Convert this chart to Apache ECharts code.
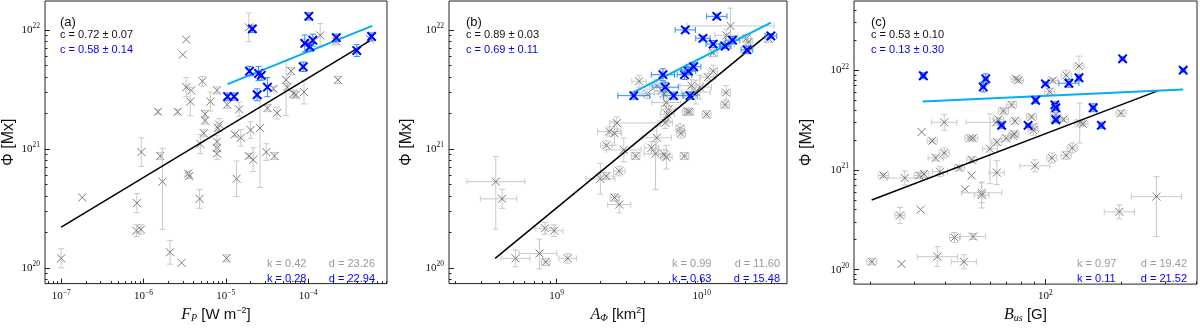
<!DOCTYPE html>
<html>
<head>
<meta charset="utf-8">
<script src="https://cdn.jsdelivr.net/npm/echarts@6/dist/echarts.min.js"></script>
<style>
  html, body { margin: 0; padding: 0; background: #fff; }
  #chart { width: 1200px; height: 328px; }
</style>
</head>
<body>
<div id="chart"></div>
<script>
// rows: [x, flux, xErr (dex), yErr (dex)]; an error may be [down, up]

// (a) flare peak flux F_P [W m^-2]
const aGray = [
  [1e-7, 1.2e20, 0, 0.08], [1.8e-7, 3.9e20, 0, 0], [8.3e-7, 3.5e20, 0, 0.08],
  [8.2e-7, 2.05e20, 0, 0.05], [9.3e-7, 2.1e20, 0, 0.04], [9.4e-7, 9.4e20, 0, 0.12],
  [1.5e-6, 2.05e21, 0, 0.02], [1.6e-6, 8.7e20, 0, 0.03], [1.7e-6, 5.3e20, 0, [0.4, 0.28]],
  [2.1e-6, 1.35e20, 0, 0.1], [2.9e-6, 1.1e20, 0, 0], [2.6e-6, 2.05e21, 0, 0.02],
  [3.0e-6, 6.2e21, 0, 0], [3.3e-6, 8.3e21, 0, 0], [3.3e-6, 3.3e21, 0, 0.08],
  [3.8e-6, 3.1e21, 0, 0], [3.7e-6, 2.5e21, 0, 0.12], [3.5e-6, 6.2e20, 0, 0.02],
  [3.6e-6, 5.9e20, 0, 0.02], [4.8e-6, 3.8e20, 0, 0.08], [5.2e-6, 3.7e21, 0, 0.04],
  [5.6e-6, 1.96e21, 0, 0.03], [5.6e-6, 1.73e21, 0, 0.03], [5.4e-6, 1.35e21, 0, 0.03],
  [4.9e-6, 1.1e21, 0, 0.08], [6.5e-6, 2.5e21, 0, 0.08], [7.8e-6, 3.1e21, 0, 0.03],
  [8.3e-6, 1.6e21, 0, 0.05], [8.0e-6, 1.5e21, 0, 0.03], [7.8e-6, 1.15e21, 0, 0.05],
  [7.8e-6, 1.02e21, 0, 0.03], [7.8e-6, 9.1e20, 0, 0.05], [1.04e-5, 2.35e21, 0, 0.03],
  [1.02e-5, 1.2e20, 0, 0.03], [1.45e-5, 2.15e21, 0, 0.06], [1.28e-5, 1.32e21, 0, 0.02],
  [1.52e-5, 1.24e21, 0, 0.07], [1.35e-5, 5.6e20, 0, 0.15], [2.0e-5, 1.44e21, 0, 0.07],
  [1.9e-5, 8.7e20, 0, 0.02], [2.15e-5, 8.1e20, 0, 0.1], [2.6e-5, 1.5e21, 0, [0.5, 0.25]],
  [3.1e-5, 9.4e20, 0, 0.07], [3.9e-5, 8.7e20, 0, 0.03], [3.2e-5, 2.2e21, 0, 0.03],
  [4.2e-5, 2.0e21, 0, 0.05], [3.8e-5, 3.2e21, 0, 0.02], [5.4e-5, 3.8e21, 0, [0.3, 0.16]],
  [6.2e-5, 4.5e21, 0, 0.03], [5.6e-5, 3.3e21, 0, 0.03], [6.6e-5, 2.9e21, 0, 0.03],
  [7.1e-5, 2.85e21, 0, 0.03], [8.9e-5, 3.0e21, 0, 0.1], [2.3e-4, 3.8e21, 0, 0.03],
  [2.2e-4, 8.0e21, 0, 0.03], [1.4e-4, 9.0e21, 0, 0.1], [9e-5, 7.8e21, 0, 0.03],
  [5.6e-4, 8.4e21, 0, 0.02], [1.9e-5, 1.05e22, 0, 0.12]
];
const aBlue = [
  [1.05e-5, 2.75e21, 0, 0.03], [1.26e-5, 2.75e21, 0, 0.03], [1.94e-5, 4.5e21, 0, 0.04],
  [2.1e-5, 1.02e22, 0, 0.03], [2.4e-5, 2.85e21, 0, 0.05], [2.5e-5, 4.3e21, 0, 0.06],
  [2.7e-5, 4.15e21, 0, 0.04], [3.2e-5, 3.3e21, 0, 0.08], [8.7e-5, 4.9e21, 0, 0.04],
  [1.02e-4, 1.3e22, 0, 0.03], [9.1e-5, 7.7e21, 0, 0.07], [1.05e-4, 7.2e21, 0, 0.04],
  [1.14e-4, 8.2e21, 0, 0.05], [2.2e-4, 8.6e21, 0, 0.03], [3.9e-4, 6.7e21, 0, 0.05],
  [5.9e-4, 8.8e21, 0, 0.03]
];
const aFitAll = [[1e-7, 2.2e20], [5.6e-4, 8.1e21]];
const aFitBlue = [[1.05e-5, 3.5e21], [6.0e-4, 1.08e22]];

// (b) area A_Phi [km^2]
const bGray = [
  [3.8e8, 5.3e20, 0.2, [0.4, 0.21]], [4.2e8, 3.8e20, [0.15, 0.1], 0.08], [5.2e8, 1.2e20, 0.1, 0.07],
  [7.6e8, 1.32e20, [0.14, 0.12], [0.13, 0.12]], [8.4e8, 1.12e20, 0.03, 0.03], [8.3e8, 2.15e20, 0.07, 0.05],
  [9.6e8, 2.05e20, 0.06, 0.05], [1.19e9, 1.2e20, 0.06, 0.04], [2.0e9, 5.6e20, 0.1, 0.13],
  [2.2e9, 5.9e20, 0.05, 0.03], [2.5e9, 3.9e20, 0.03, 0.03], [2.7e9, 3.4e20, 0.08, 0.07],
  [2.7e9, 6.5e20, 0.04, 0.04], [2.2e9, 1.07e21, 0.04, 0.04], [2.3e9, 1.4e21, 0.08, 0.04],
  [2.5e9, 1.35e21, 0.05, 0.1], [2.6e9, 1.65e21, [0.05, 0.3], 0.05], [2.9e9, 9.8e20, 0.12, 0.1],
  [3.5e9, 8.7e20, 0.03, 0.03], [3.7e9, 3.7e21, 0.05, 0.05], [4.2e9, 2.9e21, 0.05, 0.04],
  [4.5e9, 1.02e21, 0.05, 0.05], [4.8e9, 9.1e20, 0.08, [0.3, 0.1]], [4.9e9, 1.24e21, 0.1, 0.1],
  [5.5e9, 9.0e20, 0.04, 0.04], [5.7e9, 8.5e20, 0.04, 0.1], [5.5e9, 2.9e21, 0.15, 0.1],
  [5.7e9, 2.45e21, 0.1, 0.12], [5.9e9, 2.15e21, 0.05, 0.1], [5.8e9, 1.95e21, 0.05, 0.05],
  [5.6e9, 1.66e21, 0.05, 0.05], [4.9e9, 3.4e21, 0.05, 0.05], [5.3e9, 3.1e21, 0.05, 0.05],
  [7.9e9, 2.05e21, 0.03, 0.03], [8.2e9, 2.05e21, 0.03, 0.03], [7.1e9, 1.48e21, 0.03, 0.04],
  [7.2e9, 1.35e21, 0.03, 0.04], [7.6e9, 8.7e20, 0.03, 0.03], [1.08e10, 1.95e21, 0.03, 0.03],
  [1.47e10, 2.97e21, 0.03, 0.06], [1.45e10, 2.35e21, 0.03, 0.03], [1.2e10, 4.5e21, 0.03, 0.05],
  [1.1e10, 4.0e21, 0.05, 0.03], [9.7e9, 3.3e21, 0.08, 0.1], [9.1e9, 3.0e21, 0.1, 0.1],
  [8.5e9, 3.4e21, 0.08, 0.05], [1.2e10, 6.4e21, 0.03, 0.03], [1.58e10, 1.08e22, 0.3, 0.15],
  [1.48e10, 9.0e21, 0.08, 0.05], [2.04e10, 8.5e21, 0.03, 0.03], [2.1e10, 7.9e21, 0.03, 0.03],
  [2.9e10, 8.4e21, 0.03, 0.03], [1.5e10, 7.5e21, 0.05, 0.03]
];
const bBlue = [
  [3.4e9, 2.8e21, 0.11, 0.03], [5.4e9, 4.2e21, 0.08, 0.05], [5.6e9, 3.3e21, 0.09, 0.04],
  [6.4e9, 2.8e21, 0.07, 0.03], [7.6e9, 4.2e21, 0.05, 0.04], [8.1e9, 4.5e21, 0.05, 0.03],
  [8.8e9, 4.9e21, 0.05, 0.03], [8.3e9, 2.8e21, 0.05, 0.03], [7.7e9, 1.0e22, 0.07, 0.02],
  [1.27e10, 1.3e22, 0.07, 0.02], [1.02e10, 8.5e21, 0.05, 0.02], [1.2e10, 7.6e21, 0.05, 0.03],
  [1.45e10, 7.3e21, 0.04, 0.02], [1.63e10, 8.2e21, 0.05, 0.03], [2.05e10, 6.8e21, 0.04, 0.03],
  [3.0e10, 8.9e21, 0.04, 0.02]
];
const bFitAll = [[3.76e8, 1.2e20], [2.9e10, 9.3e21]];
const bFitBlue = [[3.4e9, 3.0e21], [3.0e10, 1.15e22]];

// (c) field strength B_us [G]
const cGray = [
  [20.3, 1.2e20, 0.02, 0.03], [26.7, 1.14e20, 0, 0], [37.1, 1.35e20, 0.08, 0.1],
  [47.3, 1.2e20, 0.05, 0.07], [43.4, 2.1e20, 0.02, 0.05], [51.5, 2.15e20, 0.05, 0.03],
  [26.3, 3.5e20, 0.02, 0.08], [31.8, 4.0e20, 0, 0], [22.6, 8.8e20, 0.02, 0.02],
  [27.5, 8.3e20, 0.07, 0.07], [31.4, 8.8e20, 0.02, 0.03], [32.8, 9.1e20, 0.02, 0.03],
  [38.0, 9.6e20, 0.03, 0.05], [36.5, 1.32e21, 0.03, 0.03], [39.5, 1.48e21, 0.02, 0.05],
  [39.5, 3.0e21, 0.05, 0.08], [32.1, 2.4e21, 0, 0], [35.4, 1.96e21, 0.02, 0.02],
  [45.4, 1.05e21, 0.02, 0.03], [47.8, 6.4e20, 0, 0], [50.8, 8.8e20, 0, 0],
  [50.8, 1.26e21, 0.02, 0.03], [50, 2.08e21, 0.02, 0.02], [51.3, 2.08e21, 0.02, 0.02],
  [55.7, 5.9e20, 0.08, 0.1], [55.7, 5.6e20, 0.03, 0.13], [60.1, 1.63e21, 0.03, 0.35],
  [64, 9.4e20, 0.03, 0.12], [64, 1.9e21, 0.02, 0.03], [63.6, 3.0e21, [0.12, 0.03], 0.03],
  [65, 3.2e21, 0.02, 0.02], [68, 3.9e21, 0.02, 0.03], [69.7, 2.08e21, 0.02, 0.03],
  [73.3, 4.5e21, 0.02, 0.03], [75.6, 3.1e21, 0.02, 0.03], [74.3, 2.2e21, 0.02, 0.02],
  [75, 2.3e21, 0.02, 0.03], [76.3, 8.2e21, 0.02, 0.02], [78, 7.9e21, 0.02, 0.02],
  [88, 3.4e21, 0.02, 0.02], [89, 2.7e21, 0.02, 0.03], [89.5, 2.5e21, 0.02, 0.05],
  [90.8, 1.1e21, 0.06, 0.06], [106, 1.32e21, 0.02, 0.05], [104, 6.1e21, 0.02, 0.03],
  [107, 7.9e21, 0.02, 0.02], [110, 3.6e21, 0.02, 0.02], [110, 3.1e21, 0.02, 0.02],
  [118, 3.2e21, 0.02, 0.02], [121, 8.9e21, 0.02, 0.05], [121, 1.4e21, 0.02, 0.04],
  [128, 1.66e21, 0.02, 0.05], [136, 1.1e22, 0.02, 0.1], [137, 2.95e21, 0.02, 0.2],
  [141, 2.9e21, 0.02, 0.02], [200, 3.7e21, 0.02, 0.03], [197, 3.8e20, 0.06, 0.07],
  [277, 5.4e20, 0.1, [0.4, 0.2]]
];
const cBlue = [
  [32.6, 8.8e21, 0.01, 0.03], [57.8, 8.2e21, 0.01, 0.05], [56.5, 6.8e21, 0.01, 0.05],
  [66.9, 2.8e21, 0.01, 0.03], [85.3, 2.8e21, 0.01, 0.02], [91.4, 5.0e21, 0.01, 0.03],
  [100, 7.3e21, 0.01, 0.02], [109, 4.5e21, 0.01, 0.03], [110, 4.2e21, 0.01, 0.03],
  [110, 3.2e21, 0.01, 0.03], [124, 7.4e21, 0.04, 0.04], [136, 8.4e21, 0.01, 0.03],
  [155, 4.2e21, 0.01, 0.04], [167, 2.8e21, 0.01, 0.03], [203, 1.3e22, 0.01, 0.02],
  [354, 1.0e22, 0.01, 0.02]
];
const cFitAll = [[20.3, 5.0e20], [280, 6.2e21]];
const cFitBlue = [[32.4, 4.86e21], [354, 6.4e21]];

// axis ranges (log10) and labelled decades
const xRanges = [[-7.197, -3.042], [8.257, 10.588], [1.237, 2.604]];
const yRanges = [[19.867, 22.243], [19.867, 22.243], [19.855, 22.694]];
const xDecades = [[-7, -6, -5, -4], [9, 10], [2]];
const yDecades = [20, 21, 22];

const panelTags = ['(a)', '(b)', '(c)'];
const cAll = ['c = 0.72 ± 0.07', 'c = 0.89 ± 0.03', 'c = 0.53 ± 0.10'];
const cSub = ['c = 0.58 ± 0.14', 'c = 0.69 ± 0.11', 'c = 0.13 ± 0.30'];
const kAll = ['k = 0.42', 'k = 0.99', 'k = 0.97'];
const dAll = ['d = 23.26', 'd = 11.60', 'd = 19.42'];
const kSub = ['k = 0.28', 'k = 0.63', 'k = 0.11'];
const dSub = ['d = 22.94', 'd = 15.48', 'd = 21.52'];

const GRAY = '#787878', GRAYBAR = '#c9c9c9', BLUE = '#0000ff', BLUEBAR = '#1e90ff', CYAN = '#00b0f0';
const SANS = '"Liberation Sans", Arial, sans-serif';
const SERIF = '"Liberation Serif", "DejaVu Serif", serif';

const grids = [
  { left: 43, right: 813, top: 1, bottom: 34 },
  { left: 449, right: 413, top: 1, bottom: 34 },
  { left: 854, right: 3, top: 1, bottom: 34 }
];

function logRows(rows) {
  return rows.map(r => {
    const lx = Math.log10(r[0]), ly = Math.log10(r[1]);
    const ex = Array.isArray(r[2]) ? r[2] : [r[2], r[2]];
    const ey = Array.isArray(r[3]) ? r[3] : [r[3], r[3]];
    return [lx, ly, lx - ex[0], lx + ex[1], ly - ey[0], ly + ey[1]];
  });
}
function logLine(pts) { return pts.map(p => [Math.log10(p[0]), Math.log10(p[1])]); }

function minorTicks(lo, hi) {
  const out = [];
  for (let n = Math.floor(lo); n <= Math.ceil(hi); n++) {
    for (let k = 2; k <= 9; k++) {
      const v = n + Math.log10(k);
      if (v >= lo && v <= hi) out.push(v);
    }
  }
  return out;
}

function powLabel(v) {
  const n = Math.round(v);
  return '{b|10}{s|' + (n < 0 ? '\u2212' + (-n) : n) + '}';
}
const tickRich = {
  b: { fontFamily: SERIF, fontSize: 11, color: '#111' },
  s: { fontFamily: SERIF, fontSize: 7.5, color: '#111', padding: [0, 0, 7, 0] }
};

function drawPoints(markColor, barColor, markWidth, half) {
  return function (params, api) {
    const c = api.coord([api.value(0), api.value(1)]);
    const kids = [];
    const bar = { stroke: barColor, lineWidth: 1 };
    const cap = 3;
    const x0 = api.value(2), x1 = api.value(3), y0 = api.value(4), y1 = api.value(5);
    if (y1 - y0 > 0) {
      const lo = api.coord([api.value(0), y0])[1], hi = api.coord([api.value(0), y1])[1];
      kids.push({ type: 'line', shape: { x1: c[0], y1: lo, x2: c[0], y2: hi }, style: bar });
      kids.push({ type: 'line', shape: { x1: c[0] - cap, y1: lo, x2: c[0] + cap, y2: lo }, style: bar });
      kids.push({ type: 'line', shape: { x1: c[0] - cap, y1: hi, x2: c[0] + cap, y2: hi }, style: bar });
    }
    if (x1 - x0 > 0) {
      const lo = api.coord([x0, api.value(1)])[0], hi = api.coord([x1, api.value(1)])[0];
      kids.push({ type: 'line', shape: { x1: lo, y1: c[1], x2: hi, y2: c[1] }, style: bar });
      kids.push({ type: 'line', shape: { x1: lo, y1: c[1] - cap, x2: lo, y2: c[1] + cap }, style: bar });
      kids.push({ type: 'line', shape: { x1: hi, y1: c[1] - cap, x2: hi, y2: c[1] + cap }, style: bar });
    }
    const mk = { stroke: markColor, lineWidth: markWidth };
    kids.push({ type: 'line', shape: { x1: c[0] - half, y1: c[1] - half, x2: c[0] + half, y2: c[1] + half }, style: mk });
    kids.push({ type: 'line', shape: { x1: c[0] - half, y1: c[1] + half, x2: c[0] + half, y2: c[1] - half }, style: mk });
    return { type: 'group', children: kids };
  };
}

const xNames = [
  '{i|F}{sub|P} [W m{sup|\u22122}]',
  '{i|A}{sub|\u03a6} [km{sup|2}]',
  '{i|B}{sub|us} [G]'
];
const nameRich = {
  i: { fontFamily: SERIF, fontStyle: 'italic', fontSize: 16, color: '#111' },
  sub: { fontFamily: SERIF, fontStyle: 'italic', fontSize: 10, color: '#111', padding: [6, 0, 0, 0] },
  sup: { fontFamily: SANS, fontSize: 9, color: '#111', padding: [0, 0, 8, 0] }
};
const yNameGaps = [28, 34, 39];

const xAxis = [], yAxis = [], series = [], graphic = [];
grids.forEach((g, i) => {
  xAxis.push({
    type: 'value', gridIndex: i, position: 'bottom', min: xRanges[i][0], max: xRanges[i][1],
    axisLine: { show: false }, splitLine: { show: false },
    axisTick: { inside: true, length: 5, customValues: xDecades[i], lineStyle: { color: '#222' } },
    axisLabel: { customValues: xDecades[i], formatter: powLabel, rich: tickRich, margin: 5 },
    name: xNames[i], nameLocation: 'middle', nameGap: 15,
    nameTextStyle: { fontFamily: SANS, fontSize: 15, color: '#111', rich: nameRich }
  });
  xAxis.push({
    type: 'value', gridIndex: i, position: 'bottom', min: xRanges[i][0], max: xRanges[i][1],
    axisLine: { show: false }, splitLine: { show: false }, axisLabel: { show: false },
    axisTick: { inside: true, length: 2.5, customValues: minorTicks(xRanges[i][0], xRanges[i][1]), lineStyle: { color: '#222' } }
  });
  yAxis.push({
    type: 'value', gridIndex: i, position: 'left', min: yRanges[i][0], max: yRanges[i][1],
    axisLine: { show: false }, splitLine: { show: false },
    axisTick: { inside: true, length: 5, customValues: yDecades, lineStyle: { color: '#222' } },
    axisLabel: { customValues: yDecades, formatter: powLabel, rich: tickRich, margin: 5 },
    name: '\u03a6 [Mx]', nameLocation: 'middle', nameGap: yNameGaps[i],
    nameTextStyle: { fontFamily: SANS, fontSize: 16, color: '#111' }
  });
  yAxis.push({
    type: 'value', gridIndex: i, position: 'left', min: yRanges[i][0], max: yRanges[i][1],
    axisLine: { show: false }, splitLine: { show: false }, axisLabel: { show: false },
    axisTick: { inside: true, length: 2.5, customValues: minorTicks(yRanges[i][0], yRanges[i][1]), lineStyle: { color: '#222' } }
  });
});

const grays = [aGray, bGray, cGray], blues = [aBlue, bBlue, cBlue];
const fitsAll = [aFitAll, bFitAll, cFitAll], fitsBlue = [aFitBlue, bFitBlue, cFitBlue];
for (let i = 0; i < 3; i++) {
  const ax = { xAxisIndex: 2 * i, yAxisIndex: 2 * i };
  series.push(Object.assign({
    type: 'custom', clip: true, z: 2, renderItem: drawPoints(GRAY, GRAYBAR, 1, 4),
    data: logRows(grays[i]), encode: { x: 0, y: 1 }
  }, ax));
  series.push(Object.assign({
    type: 'line', z: 3, showSymbol: false, silent: true, data: logLine(fitsAll[i]),
    lineStyle: { color: '#000', width: 1.5 }
  }, ax));
  series.push(Object.assign({
    type: 'line', z: 3, showSymbol: false, silent: true, data: logLine(fitsBlue[i]),
    lineStyle: { color: CYAN, width: 2 }
  }, ax));
  series.push(Object.assign({
    type: 'custom', clip: true, z: 4, renderItem: drawPoints(BLUE, BLUEBAR, 2, 4.2),
    data: logRows(blues[i]), encode: { x: 0, y: 1 }
  }, ax));
}

// annotations
const tagX = [60, 466, 871];
const kX = [267, 672, 1077];
const dRight = [375, 780, 1187];
function txt(x, y, s, color, size, align) {
  return { type: 'text', z: 10, style: { x: x, y: y, text: s, fill: color, font: size + 'px ' + SANS, align: align || 'left', verticalAlign: 'middle' } };
}
for (let i = 0; i < 3; i++) {
  graphic.push(txt(tagX[i], 22, panelTags[i], '#111', 13));
  graphic.push(txt(tagX[i], 34.5, cAll[i], '#111', 11));
  graphic.push(txt(tagX[i], 49.5, cSub[i], BLUE, 11));
  graphic.push(txt(kX[i], 264, kAll[i], '#9a9a9a', 11));
  graphic.push(txt(dRight[i], 264, dAll[i], '#9a9a9a', 11, 'right'));
  graphic.push(txt(kX[i], 278.5, kSub[i], BLUE, 11));
  graphic.push(txt(dRight[i], 278.5, dSub[i], BLUE, 11, 'right'));
}

const chart = echarts.init(document.getElementById('chart'), null, { renderer: 'canvas' });
chart.setOption({
  animation: false,
  backgroundColor: '#fff',
  grid: grids.map(g => Object.assign({ show: true, borderColor: '#222', borderWidth: 1, backgroundColor: 'transparent' }, g)),
  xAxis: xAxis,
  yAxis: yAxis,
  series: series,
  graphic: graphic
});
window.addEventListener('resize', chart.resize);
</script>
</body>
</html>
